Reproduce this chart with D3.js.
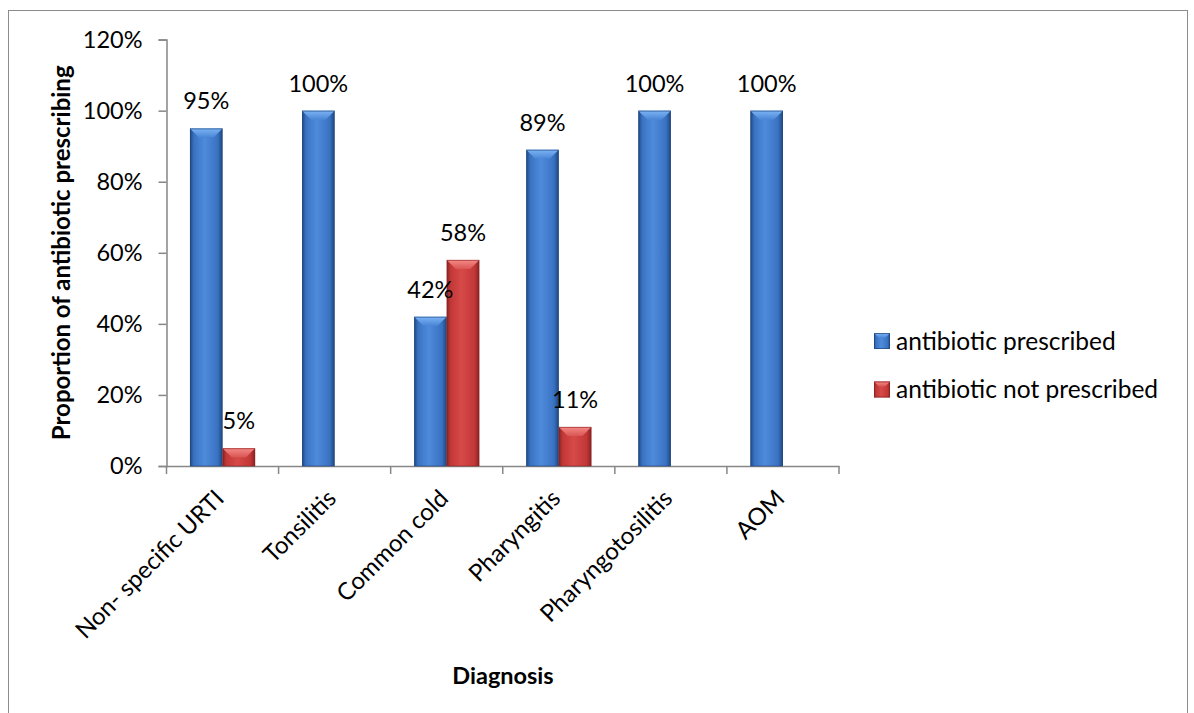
<!DOCTYPE html>
<html>
<head>
<meta charset="utf-8">
<script src="https://cdn.jsdelivr.net/npm/d3@7"></script>
<style>
  html, body { margin: 0; padding: 0; background: #fff; }
  svg { display: block; }
  text { font-family: Lato, "Noto Sans", sans-serif; fill: #000; }
</style>
</head>
<body>
<svg id="chart" width="1194" height="713"></svg>
<script>
// Diagnoses and share of consultations with / without an antibiotic
const categories = ["Non- specific URTI", "Tonsilitis", "Common cold", "Pharyngitis", "Pharyngotosilitis", "AOM"];
const seriesNames = ["antibiotic prescribed", "antibiotic not prescribed"];
const prescribed = [0.95, 1.00, 0.42, 0.89, 1.00, 1.00];
const notPrescribed = [0.05, null, 0.58, 0.11, null, null];
const yTicks = [0, 0.2, 0.4, 0.6, 0.8, 1.0, 1.2];

const seriesValues = [prescribed, notPrescribed];

const svg = d3.select("#chart");

// chart frame
svg.append("rect")
  .attr("x", 8.5).attr("y", 10.5)
  .attr("width", 1179).attr("height", 720)
  .attr("fill", "#fff").attr("stroke", "#8c8c8c").attr("stroke-width", 1);

const plot = { left: 166.5, right: 839, top: 39.6, bottom: 466 };

const x0 = d3.scaleBand().domain(categories).range([plot.left, plot.right]).paddingInner(0).paddingOuter(0);
const x1 = d3.scaleBand().domain(seriesNames).range([0, x0.bandwidth()]).paddingInner(0).paddingOuter(0.72);
const y = d3.scaleLinear().domain([0, 1.2]).range([plot.bottom, plot.top]);

// gradients giving the bars their rounded, bevelled look
const defs = svg.append("defs");
const palettes = {
  "antibiotic prescribed": { dark: "#1f477e", mid: "#3a72c2", light: "#4f8bdb", bevel: "#7db4f5", bevelDark: "#4a86d6" },
  "antibiotic not prescribed": { dark: "#8a2222", mid: "#c23837", light: "#d64a48", bevel: "#f58a88", bevelDark: "#d95654" }
};
seriesNames.forEach((s, i) => {
  const p = palettes[s];
  const g = defs.append("linearGradient").attr("id", "body" + i).attr("x1", 0).attr("x2", 1).attr("y1", 0).attr("y2", 0);
  g.append("stop").attr("offset", "0%").attr("stop-color", p.dark);
  g.append("stop").attr("offset", "12%").attr("stop-color", p.mid);
  g.append("stop").attr("offset", "45%").attr("stop-color", p.light);
  g.append("stop").attr("offset", "85%").attr("stop-color", p.mid);
  g.append("stop").attr("offset", "100%").attr("stop-color", p.dark);
  const b = defs.append("linearGradient").attr("id", "bevel" + i).attr("x1", 0).attr("x2", 0).attr("y1", 0).attr("y2", 1);
  b.append("stop").attr("offset", "0%").attr("stop-color", p.bevel);
  b.append("stop").attr("offset", "100%").attr("stop-color", p.bevelDark);
});

// axes
const axisColor = "#878787";
const yAxis = svg.append("g")
  .attr("transform", `translate(${plot.left},0)`)
  .call(d3.axisLeft(y).tickValues(yTicks).tickSize(8).tickPadding(16).tickFormat(d3.format(".0%")));
yAxis.select(".domain").attr("stroke", axisColor).attr("stroke-width", 1.5);
yAxis.selectAll(".tick line").attr("stroke", axisColor).attr("stroke-width", 1.5);
yAxis.selectAll(".tick text").style("font-family", "Lato, 'Noto Sans', sans-serif").attr("font-size", 23.5).attr("fill", "#000");

const xAxis = svg.append("g")
  .attr("transform", `translate(0,${plot.bottom})`)
  .call(d3.axisBottom(x0).tickSize(0).tickFormat(""));
xAxis.select(".domain").attr("stroke", axisColor).attr("stroke-width", 1.5);
// boundary ticks between categories
const boundaries = categories.map(c => x0(c)).concat([plot.right]);
svg.append("g").selectAll("line").data(boundaries).join("line")
  .attr("x1", d => d).attr("x2", d => d)
  .attr("y1", plot.bottom).attr("y2", plot.bottom + 8)
  .attr("stroke", axisColor).attr("stroke-width", 1.5);

// category labels at -45 degrees
svg.append("g").selectAll("text").data(categories).join("text")
  .attr("transform", d => `translate(${x0(d) + x0.bandwidth() / 2 + 3},${plot.bottom + 34}) rotate(-45)`)
  .attr("text-anchor", "end")
  .attr("font-size", 24)
  .text(d => d);

// bars
const bars = [];
seriesNames.forEach((s, si) => {
  categories.forEach((c, ci) => {
    const v = seriesValues[si][ci];
    if (v != null) bars.push({ series: s, si, cat: c, value: v });
  });
});

const barG = svg.append("g");
const bw = x1.bandwidth();
bars.forEach(d => {
  const bx = x0(d.cat) + x1(d.series);
  const by = y(d.value);
  const bh = plot.bottom - by;
  const g = barG.append("g");
  g.append("rect")
    .attr("x", bx).attr("y", by).attr("width", bw).attr("height", bh)
    .attr("fill", `url(#body${d.si})`);
  const bev = Math.min(9, bh);
  g.append("path")
    .attr("d", `M${bx},${by} L${bx + bw},${by} L${bx + bw * 0.72},${by + bev} L${bx + bw * 0.28},${by + bev} Z`)
    .attr("fill", `url(#bevel${d.si})`);
  g.append("rect")
    .attr("x", bx + 0.5).attr("y", by + 0.5).attr("width", bw - 1).attr("height", bh - 0.5)
    .attr("fill", "none").attr("stroke", palettes[d.series].dark).attr("stroke-opacity", 0.6);
});

// value labels
svg.append("g").selectAll("text").data(bars).join("text")
  .attr("x", d => x0(d.cat) + x1(d.series) + bw / 2)
  .attr("y", d => y(d.value) - 19)
  .attr("text-anchor", "middle")
  .attr("font-size", 23.5)
  .text(d => d3.format(".0%")(d.value));

// axis titles
svg.append("text")
  .attr("transform", `translate(70,${(plot.top + plot.bottom) / 2}) rotate(-90)`)
  .attr("text-anchor", "middle")
  .attr("font-size", 24).attr("font-weight", "bold")
  .text("Proportion of antibiotic prescribing");

svg.append("text")
  .attr("x", 503).attr("y", 684)
  .attr("text-anchor", "middle")
  .attr("font-size", 23.5).attr("font-weight", "bold")
  .text("Diagnosis");

// legend
const legend = svg.append("g").attr("transform", "translate(874,333)");
seriesNames.forEach((s, i) => {
  const row = legend.append("g").attr("transform", `translate(0,${i * 48.5})`);
  row.append("rect").attr("width", 16).attr("height", 16).attr("fill", `url(#body${i})`);
  row.append("path").attr("d", "M0,0 L16,0 L11,5 L5,5 Z").attr("fill", `url(#bevel${i})`);
  row.append("rect").attr("x", 0.5).attr("y", 0.5).attr("width", 15).attr("height", 15)
    .attr("fill", "none").attr("stroke", palettes[s].dark).attr("stroke-opacity", 0.7);
  row.append("text").attr("x", 22).attr("y", 8).attr("dy", "0.35em")
    .attr("font-size", 24.5).text(s);
});
</script>
</body>
</html>
